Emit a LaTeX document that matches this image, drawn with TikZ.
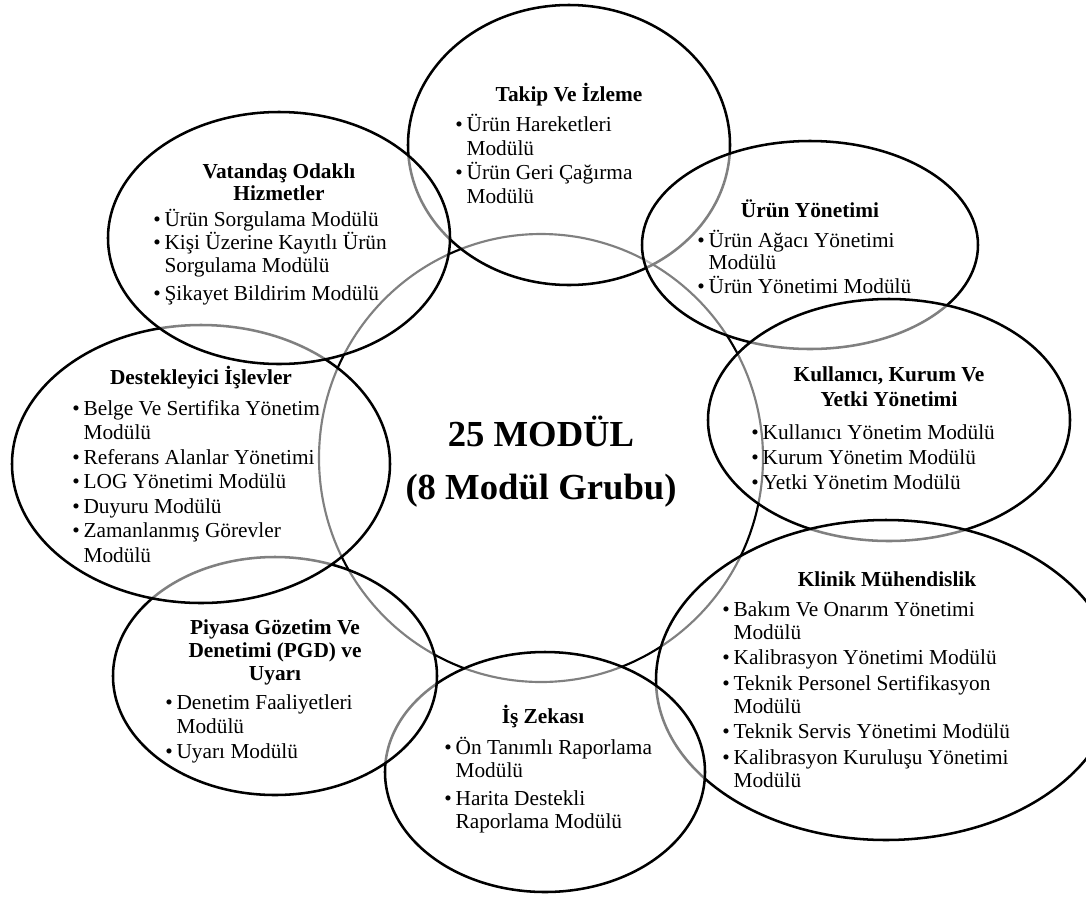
\documentclass[tikz,border=0pt]{standalone}
\usepackage{fontspec}
\setmainfont{Liberation Serif}
\newcommand{\lsp}[1]{\baselineskip=#1\relax\lineskiplimit=-100pt\relax\lineskip=0pt\relax}
\newcommand{\bitem}[1]{\hbox{\makebox[8.5pt][l]{\textbullet}#1}}
\newcommand{\bcont}[1]{\hbox{\hspace{8.5pt}#1}}
\newcommand{\bgap}[1]{\vskip #1\relax}
\newcommand{\ctrlines}[2]{\vtop{\lsp{#1}\halign{\hfil##\hfil\cr#2\crcr}}}
\begin{document}
\begin{tikzpicture}[x=0.75pt,y=-0.75pt,
  grp/.style={draw=black, line width=1.9pt, fill=white, fill opacity=0.5},
  hub/.style={draw=black, line width=1.6pt, fill=white, fill opacity=0.5},
  ttl/.style={font=\fontsize{16}{18}\selectfont\bfseries, anchor=base, inner sep=0pt},
  lst/.style={font=\fontsize{16}{18}\selectfont, anchor=base west, inner sep=0pt},
  big/.style={font=\fontsize{27.5}{40}\selectfont\bfseries, anchor=base, inner sep=0pt}]
\useasboundingbox (0,0) rectangle (1086,897);
\fill[white] (0,0) rectangle (1086,897);
\clip (0,0) rectangle (1086,897);
% central circle
\draw[hub] (541,458) ellipse [x radius=222, y radius=224];
% outer groups in drawing order
\draw[grp] (569,145) ellipse [x radius=161, y radius=140];
\draw[grp] (810,245) ellipse [x radius=168, y radius=104];
\draw[grp] (889,420) ellipse [x radius=181, y radius=121];
\draw[grp] (886,680) ellipse [x radius=230, y radius=160];
\draw[grp] (545,772) ellipse [x radius=160, y radius=120];
\draw[grp] (275,676) ellipse [x radius=162, y radius=119];
\draw[grp] (201,464) ellipse [x radius=189, y radius=139];
\draw[grp] (279,238) ellipse [x radius=171, y radius=126];
% central text
\node[big] (hubtext) at (541,446) {\ctrlines{40pt}{25 MODÜL\cr(8 Modül Grubu)}};
% Takip
\node[ttl] (t1) at (569,101) {Takip Ve İzleme};
\node[lst] (l1) at (455,131) {\vtop{\lsp{18pt}\bitem{Ürün Hareketleri}\bcont{Modülü}\bitem{Ürün Geri Çağırma}\bcont{Modülü}}};
% Urun Yonetimi
\node[ttl] (t2) at (810,217) {Ürün Yönetimi};
\node[lst] (l2) at (697,247) {\vtop{\lsp{16.5pt}\bitem{Ürün Ağacı Yönetimi}\bcont{Modülü}\bgap{1.5pt}\bitem{Ürün Yönetimi Modülü}}};
% Kullanici
\node[ttl] (t3) at (889,381) {\ctrlines{18.75pt}{Kullanıcı, Kurum Ve\cr Yetki Yönetimi}};
\node[lst] (l3) at (751,439) {\vtop{\lsp{18.75pt}\bitem{Kullanıcı Yönetim Modülü}\bitem{Kurum Yönetim Modülü}\bitem{Yetki Yönetim Modülü}}};
% Klinik
\node[ttl] (t4) at (887,586) {Klinik Mühendislik};
\node[lst] (l4) at (722,616) {\vtop{\lsp{17.5pt}\bitem{Bakım Ve Onarım Yönetimi}\bcont{Modülü}\bgap{1.5pt}\bitem{Kalibrasyon Yönetimi Modülü}\bgap{1.5pt}\bitem{Teknik Personel Sertifikasyon}\bcont{Modülü}\bgap{1.5pt}\bitem{Teknik Servis Yönetimi Modülü}\bgap{1.5pt}\bitem{Kalibrasyon Kuruluşu Yönetimi}\bcont{Modülü}}};
% Is Zekasi
\node[ttl] (t5) at (543,723) {İş Zekası};
\node[lst] (l5) at (444,754) {\vtop{\lsp{17.5pt}\bitem{Ön Tanımlı Raporlama}\bcont{Modülü}\bgap{3.5pt}\bitem{Harita Destekli}\bcont{Raporlama Modülü}}};
% Piyasa
\node[ttl] (t6) at (275,634) {\ctrlines{17.25pt}{Piyasa Gözetim Ve\cr Denetimi (PGD) ve\cr Uyarı}};
\node[lst] (l6) at (165,709) {\vtop{\lsp{18pt}\bitem{Denetim Faaliyetleri}\bcont{Modülü}\bgap{1pt}\bitem{Uyarı Modülü}}};
% Destekleyici
\node[ttl] (t7) at (201,384) {Destekleyici İşlevler};
\node[lst] (l7) at (72,415) {\vtop{\lsp{18.4pt}\bitem{Belge Ve Sertifika Yönetim}\bcont{Modülü}\bitem{Referans Alanlar Yönetimi}\bitem{LOG Yönetimi Modülü}\bitem{Duyuru Modülü}\bitem{Zamanlanmış Görevler}\bcont{Modülü}}};
% Vatandas
\node[ttl] (t8) at (279,178) {\ctrlines{16.5pt}{Vatandaş Odaklı\cr Hizmetler}};
\node[lst] (l8) at (153,226) {\vtop{\lsp{17.25pt}\bitem{Ürün Sorgulama Modülü}\bitem{Kişi Üzerine Kayıtlı Ürün}\bcont{Sorgulama Modülü}\bgap{4pt}\bitem{Şikayet Bildirim Modülü}}};
\end{tikzpicture}
\end{document}
